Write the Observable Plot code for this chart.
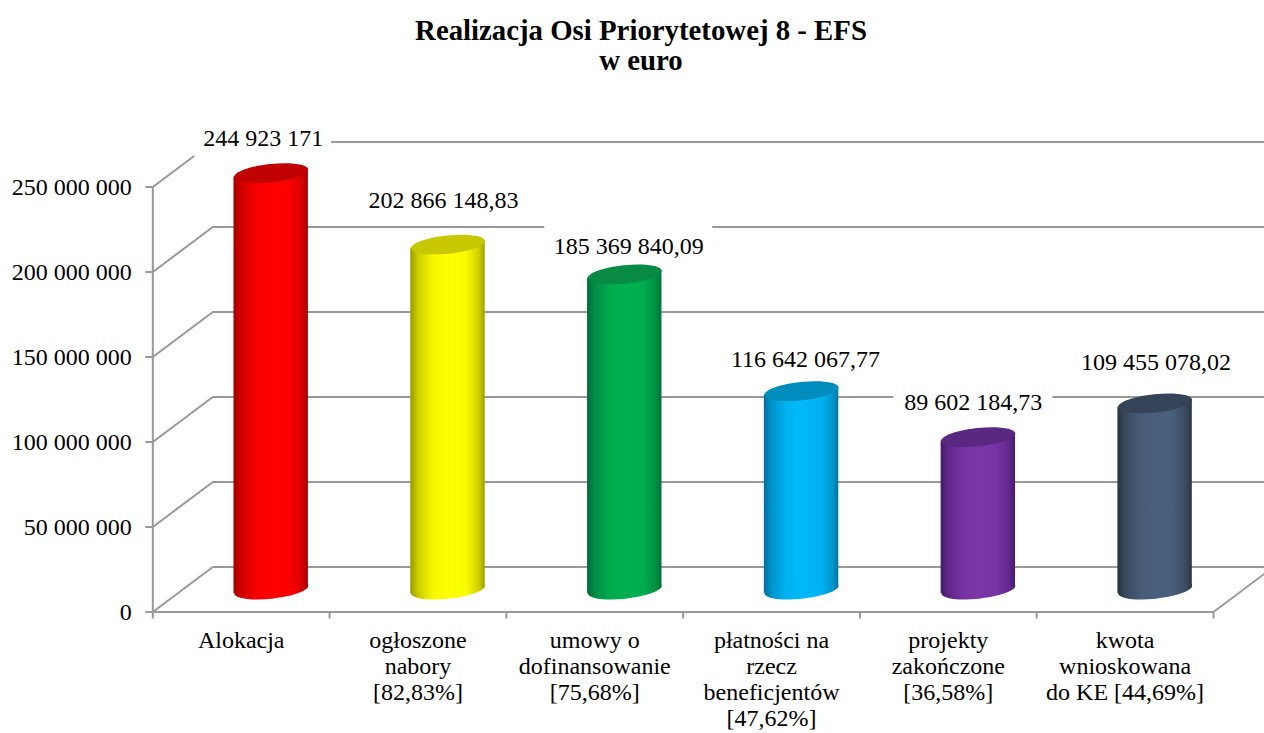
<!DOCTYPE html>
<html lang="pl">
<head>
<meta charset="utf-8">
<script src="https://cdn.jsdelivr.net/npm/d3@7"></script>
<script src="https://cdn.jsdelivr.net/npm/@observablehq/plot@0.6"></script>
<style>
  html, body { margin: 0; padding: 0; background: #fff; overflow: hidden; width: 1264px; height: 733px; }
  #title { height: 90px; box-sizing: border-box; padding: 15px 0 0 18px; text-align: center;
           font: bold 28.8px/30px "Liberation Serif", serif; color: #000; }
  svg { display: block; }
</style>
</head>
<body>
<div id="title">Realizacja Osi Priorytetowej 8 - EFS<br>w euro</div>
<div id="chart"></div>
<script>
const categories = [
  "Alokacja",
  "ogłoszone\nnabory\n[82,83%]",
  "umowy o\ndofinansowanie\n[75,68%]",
  "płatności na\nrzecz\nbeneficjentów\n[47,62%]",
  "projekty\nzakończone\n[36,58%]",
  "kwota\nwnioskowana\ndo KE [44,69%]"
];
const values = [244923171, 202866148.83, 185369840.09, 116642067.77, 89602184.73, 109455078.02];
const valueLabels = ["244 923 171", "202 866 148,83", "185 369 840,09", "116 642 067,77", "89 602 184,73", "109 455 078,02"];
const yTicks = [0, 50000000, 100000000, 150000000, 200000000, 250000000];

// styling and layout
const colors = ["#ff0000", "#ffff00", "#00b050", "#00b8f8", "#7a35a8", "#4a5f7c"];
const edges  = ["#a00000", "#989800", "#006a38", "#006f9c", "#44196a", "#28333f"];
const tops   = ["#c00000", "#c8c800", "#078a44", "#008cbc", "#5a2880", "#36445a"];
const labelShiftX = [-8, -4.5, 4, 4, -5, 1];
const labelLift = [57, 66.6, 50.4, 54, 57, 64];
const labelWidth = [137, 160, 168, 160, 159, 160];
const chartW = 1264, chartH = 643;
const plotLeft = 152.3, plotRight = 1213, plotTop = 96.5, plotBottom = 521.5;
const pxX = p => p * 6 / (plotRight - plotLeft);
const pxY = p => p * 250e6 / (plotBottom - plotTop);
const depthX = pxX(60), depthY = pxY(45);
const halfW = pxX(37.2), tilt = 3.9;
const grid = "#999999", gridW = 2;
const fs = 24;

const rows = values.map((v, i) => ({i, v, cat: categories[i], label: valueLabels[i], c: i + 0.5 + depthX / 2}));

// a tilted ellipse as a Plot symbol
const ellipse = {
  draw(ctx) {
    const rx = 37.2, ry = 9.2, a = -6 * Math.PI / 180, k = 0.5523;
    const P = (x, y) => [x * Math.cos(a) - y * Math.sin(a), x * Math.sin(a) + y * Math.cos(a)];
    ctx.moveTo(...P(rx, 0));
    ctx.bezierCurveTo(...P(rx, k * ry), ...P(k * rx, ry), ...P(0, ry));
    ctx.bezierCurveTo(...P(-k * rx, ry), ...P(-rx, k * ry), ...P(-rx, 0));
    ctx.bezierCurveTo(...P(-rx, -k * ry), ...P(-k * rx, -ry), ...P(0, -ry));
    ctx.bezierCurveTo(...P(k * rx, -ry), ...P(rx, -k * ry), ...P(rx, 0));
    ctx.closePath();
  }
};

const cylinder = d => {
  const fill = `url(#cyl${d.i})`;
  const base = depthY / 2, topV = d.v + depthY / 2, t = pxY(tilt);
  const side = [
    {x: d.c - halfW, y1: base - t, y2: topV - t},
    {x: d.c + halfW, y1: base + t, y2: topV + t}
  ];
  return [
    Plot.dot([d], {x: "c", y: () => base, symbol: ellipse, fill, stroke: "none"}),
    Plot.area(side, {x1: "x", y1: "y1", y2: "y2", fill, stroke: "none"}),
    Plot.dot([d], {x: "c", y: () => topV, symbol: ellipse, fill: tops[d.i], stroke: "none"})
  ];
};

const boxes = rows.map(d => {
  const cx = d.c + pxX(labelShiftX[d.i]), cy = d.v + pxY(labelLift[d.i]);
  return {x1: cx - pxX(labelWidth[d.i] / 2), x2: cx + pxX(labelWidth[d.i] / 2),
          y1: cy - pxY(21), y2: cy + pxY(21), cx, cy, label: d.label};
});

const plot = Plot.plot({
  width: chartW, height: chartH,
  marginLeft: plotLeft, marginRight: chartW - plotRight, marginTop: plotTop, marginBottom: chartH - plotBottom,
  style: {fontFamily: "'Liberation Serif', serif", fontSize: fs + "px", background: "#fff", color: "#000"},
  x: {type: "linear", domain: [0, 6], range: [plotLeft, plotRight]},
  y: {type: "linear", domain: [0, 250e6], range: [plotBottom, plotTop]},
  marks: [
    // back wall and floor
    Plot.ruleY(yTicks, {y: v => v + depthY, x1: depthX, x2: 6 + depthX, stroke: grid, strokeWidth: gridW}),
    Plot.link(yTicks, {x1: 0, y1: v => v, x2: depthX, y2: v => v + depthY, stroke: grid, strokeWidth: gridW}),
    Plot.link([0], {x1: 6, y1: 0, x2: 6 + depthX, y2: depthY, stroke: grid, strokeWidth: gridW}),
    Plot.ruleX([0], {y1: 0, y2: 250e6, stroke: grid, strokeWidth: gridW}),
    Plot.ruleY([0], {x1: 0, x2: 6, stroke: grid, strokeWidth: gridW}),
    // white plates behind value labels
    Plot.rect(boxes, {x1: "x1", x2: "x2", y1: "y1", y2: "y2", fill: "#fff", stroke: "none"}),
    // cylinders
    ...rows.flatMap(cylinder),
    // axes
    Plot.axisY({ticks: yTicks, tickFormat: v => d3.format(",")(v).replace(/,/g, " "), tickSize: 7, tickPadding: 14,
      stroke: grid, strokeWidth: gridW, label: null, fontSize: fs, fill: "#000", marginLeft: plotLeft}),
    Plot.axisX({ticks: d3.range(7), tickFormat: () => "", tickSize: 7, stroke: grid, strokeWidth: gridW, label: null}),
    // category labels
    Plot.text(rows, {x: d => d.i + 0.5, y: () => -pxY(18), text: "cat", lineAnchor: "top", textAnchor: "middle",
      lineHeight: 26 / fs, fontSize: fs, fill: "#000"}),
    // value labels
    Plot.text(boxes, {x: "cx", y: "cy", text: "label", textAnchor: "middle", fontSize: fs, fill: "#000"})
  ]
});

// cylinder shading gradients
const defs = d3.select(plot).insert("defs", ":first-child");
rows.forEach(d => {
  const g = defs.append("linearGradient").attr("id", `cyl${d.i}`).attr("x1", "0").attr("x2", "1").attr("y1", "0").attr("y2", "0");
  const mix = d3.interpolateRgb(edges[d.i], colors[d.i]);
  [[0, 0], [0.1, 0.5], [0.3, 0.92], [0.5, 1], [0.75, 0.95], [0.92, 0.55], [1, 0.05]]
    .forEach(([o, m]) => g.append("stop").attr("offset", o).attr("stop-color", mix(m)));
});
document.getElementById("chart").appendChild(plot);
</script>
</body>
</html>
